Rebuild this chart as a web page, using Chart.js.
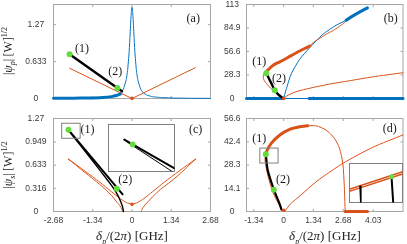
<!DOCTYPE html>
<html>
<head>
<meta charset="utf-8">
<title>Pump and signal amplitudes</title>
<script src="https://cdn.jsdelivr.net/npm/chart.js@4.4.1/dist/chart.umd.min.js"></script>
<style>
  html, body { margin: 0; padding: 0; background: #fff; }
  #fig { position: relative; width: 407px; height: 244px; overflow: hidden; font-family: "Liberation Serif", "Times New Roman", serif; color: #222; }
  #fig canvas { position: absolute; left: 0; top: 0; }
  .ytitle { position: absolute; width: 110px; height: 14px; line-height: 14px; text-align: center; font-size: 12px; transform: rotate(-90deg); white-space: nowrap; }
  .xtitle { position: absolute; width: 160px; text-align: center; font-size: 13px; white-space: nowrap; }
  sub, sup { font-size: 8px; line-height: 0; }
</style>
</head>
<body>
<div id="fig">
  <canvas id="panelA" width="407" height="244"></canvas>
  <canvas id="panelB" width="407" height="244"></canvas>
  <canvas id="panelC" width="407" height="244"></canvas>
  <canvas id="panelD" width="407" height="244"></canvas>
  <canvas id="insetC" width="407" height="244"></canvas>
  <canvas id="insetD" width="407" height="244"></canvas>
  <div class="ytitle" style="left:-47px; top:44px;">|<i>ψ</i><sub><i>p</i></sub>|&thinsp;[W]<sup>1/2</sup></div>
  <div class="ytitle" style="left:-47px; top:158px;">|<i>ψ</i><sub><i>s</i></sub>|&thinsp;[W]<sup>1/2</sup></div>
  <div class="xtitle" style="left:52px; top:228px;"><i>δ</i><sub><i>p</i></sub>/(2<i>π</i>) [GHz]</div>
  <div class="xtitle" style="left:245px; top:228px;"><i>δ</i><sub><i>p</i></sub>/(2<i>π</i>) [GHz]</div>
</div>
<script>
// ---- axes ----
const narrowTicksX = [-2.68, -1.34, 0, 1.34, 2.68];
const narrowTickLabelsX = ['-2.68', '-1.34', '0', '1.34', '2.68'];
const wideTicksX = [-1.34, 0, 1.34, 2.68, 4.03];
const wideTickLabelsX = ['-1.34', '0', '1.34', '2.68', '4.03'];
const aTicksY = [0, 0.633, 1.27];
const aTickLabelsY = ['0', '0.633', '1.27'];
const bTicksY = [0, 28.3, 56.6, 84.9, 113];
const bTickLabelsY = ['0', '28.3', '56.6', '84.9', '113'];
const cTicksY = [0, 0.316, 0.633, 0.949, 1.27];
const cTickLabelsY = ['0', '0.316', '0.633', '0.949', '1.27'];
const dTicksY = [0, 14.1, 28.3, 42.4, 56.6];
const dTickLabelsY = ['0', '14.1', '28.3', '42.4', '56.6'];

// ---- panel (a): pump ----
const aBlueX = [-2.68, -2.0, -1.5, -1.0, -0.7, -0.5, -0.4, -0.3, -0.2, -0.15, -0.1, -0.07, -0.04, -0.02, 0, 0.02, 0.04, 0.07, 0.1, 0.15, 0.2, 0.3, 0.4, 0.5, 0.7, 1.0, 1.5, 2.0, 2.68];
const aBlueY = [0.002, 0.004, 0.007, 0.016, 0.031, 0.06, 0.092, 0.157, 0.314, 0.483, 0.785, 1.054, 1.353, 1.51, 1.57, 1.51, 1.353, 1.054, 0.785, 0.483, 0.314, 0.157, 0.092, 0.06, 0.031, 0.016, 0.007, 0.004, 0.002];
const aBlueStableX = [-2.68, -2.0, -1.5, -1.0, -0.7, -0.5, -0.4];
const aBlueStableY = [0.004, 0.006, 0.009, 0.018, 0.032, 0.055, 0.075];
const aOrangeX = [-2.13, 0, 2.16];
const aOrangeY = [0.52, 0, 0.53];
const aBlackX = [-2.13, -0.5, -0.34];
const aBlackY = [0.76, 0.18, 0.125];
const aGreenX = [-2.13, -0.5];
const aGreenY = [0.76, 0.18];

// ---- panel (b): pump ----
const bFloorX = [-1.67, 5.37];
const bFloorY = [0, 0];
const bFloorLeftX = [-1.67, -0.03];
const bFloorRightX = [1.15, 5.37];
const bBlueX = [0, 0.06, 0.15, 0.35, 0.72, 1.17, 1.76, 2.36, 2.81];
const bBlueY = [0, 6, 14, 30, 47, 61, 77, 88, 94];
const bBlueStableX = [2.81, 3.1, 3.45, 3.77];
const bBlueStableY = [94, 99, 104.5, 109];
const bFoldX = [0, -0.2, -0.4, -0.6, -0.77, -0.88, -0.92, -0.88, -0.77];
const bFoldY = [0, 4, 8.3, 12.8, 18, 22, 26, 30, 32.5];
const bUpperThickX = [-0.77, -0.6, -0.47, -0.25, -0.03, 0.3, 0.57, 0.9, 1.17];
const bUpperThickY = [32.5, 37, 40, 43.2, 46, 51, 55, 59.5, 63];
const bUpperThinX = [1.17, 1.39, 1.61, 1.9, 2.21, 2.5, 2.81];
const bUpperThinY = [63, 68.5, 72, 77, 81.5, 86.5, 93];
const bLowX = [0, 0.2, 0.6, 1.2, 2.0, 3.0, 4.0, 5.37];
const bLowY = [0, 4, 8.5, 12.5, 17, 21.5, 26, 31];
const bBlackX = [-0.77, -0.66, -0.55, -0.4, -0.25, -0.1, 0];
const bBlackY = [30, 24, 18.2, 10, 5, 1.8, 0];
const bGreenX = [-0.78, -0.4];
const bGreenY = [30.5, 10];

// ---- panel (c): signal ----
const cBlackAX = [-2.17, -0.32];
const cBlackAY = [1.115, 0.235];
const cBlackBX = [-2.15, -1.4, -0.8, -0.6, -0.47, -0.38, -0.32, -0.29];
const cBlackBY = [1.1, 0.72, 0.41, 0.3, 0.21, 0.13, 0.06, 0];
const cOrangeX = [-2.17, -1.6, -1.1, -0.7, -0.4, -0.2, 0, 0.2, 0.4, 0.7, 1.1, 1.6, 2.17];
const cOrangeY = [0.716, 0.55, 0.4, 0.27, 0.175, 0.125, 0.1, 0.125, 0.175, 0.27, 0.4, 0.55, 0.716];
const cOrangeLeftX = [-2.17, -1.6, -1.1, -0.7, -0.5, -0.4, -0.34, -0.32];
const cOrangeLeftY = [0.716, 0.53, 0.37, 0.22, 0.12, 0.072, 0.03, 0];
const cOrangeRightX = [0.32, 0.34, 0.4, 0.51, 0.7, 0.97, 1.54, 2.17];
const cOrangeRightY = [0, 0.03, 0.07, 0.118, 0.2, 0.3, 0.48, 0.716];
const cGreenX = [-2.17, -0.52];
const cGreenY = [1.115, 0.31];
const cInsetThickX = [-2.249, -1.77];
const cInsetThickY = [1.139, 1.014];
const cInsetThinX = [-2.224, -1.792];
const cInsetThinY = [1.129, 1.0];
const cInsetGreenX = [-2.17];
const cInsetGreenY = [1.118];

// ---- panel (d): signal ----
const dArcThickX = [-0.8, -0.77, -0.55, -0.17, 0.27, 0.72, 1.09];
const dArcThickY = [34.9, 36.5, 41.6, 46.6, 50.0, 51.6, 52.2];
const dArcThinX = [1.09, 1.47, 1.91, 2.28, 2.51, 2.66, 2.73, 2.76, 2.77];
const dArcThinY = [52.2, 52.1, 49.6, 44.6, 38.6, 29.5, 15.3, 3.2, 0];
const dFloorX = [2.77, 3.77];
const dFloorY = [0, 0];
const dDownX = [-0.8, -0.84, -0.7, -0.47, -0.17, -0.05];
const dDownY = [34.9, 31.5, 21.4, 11.3, 3.2, 0.6];
const dRiseX = [0.05, 0.3, 0.75, 1.5, 2.69, 4.0, 5.37];
const dRiseY = [0, 4.5, 9.7, 18.5, 29.5, 39, 46.6];
const dBlackX = [-0.8, -0.72, -0.44, -0.17, -0.1];
const dBlackY = [34.9, 25.4, 13.3, 4.2, 1.2];
const dGreenX = [-0.8, -0.44];
const dGreenY = [34.9, 13.3];
const dInsetUpperX = [-1.07, -0.25];
const dInsetUpperY = [32.6, 36.66];
const dInsetLowerX = [-1.07, -0.25];
const dInsetLowerY = [32.1, 36.16];
const dInsetBlack1X = [-0.906, -0.895];
const dInsetBlack1Y = [33.3, 29.5];
const dInsetBlack2X = [-0.419, -0.394];
const dInsetBlack2Y = [35.3, 29.5];
const dInsetGreenX = [-0.419];
const dInsetGreenY = [35.5];

const BLUE = '#0072bd';
const ORANGE = '#d95319';
const BLACK = '#000000';
const GREEN = '#62dc3c';
const FRAME = '#a6a6a6';
const tickFont = { family: '"Liberation Sans", Arial, sans-serif', size: 8.5 };
const noteFont = '12px "Liberation Serif", "Times New Roman", serif';

function pairs(xs, ys) {
    return xs.map((x, i) => ({ x, y: ys[i] }));
}

function curve(xs, ys, color, width, extra) {
    return Object.assign({
        data: pairs(xs, ys),
        showLine: true,
        borderColor: color,
        backgroundColor: color,
        borderWidth: width,
        pointRadius: 0,
        tension: 0.25,
        clip: false,
        order: 5,
        borderCapStyle: 'round',
        borderJoinStyle: 'round'
    }, extra || {});
}

function dots(xs, ys, color, radius) {
    return {
        data: pairs(xs, ys),
        showLine: false,
        pointRadius: radius,
        pointBackgroundColor: color,
        pointBorderWidth: 0,
        backgroundColor: color,
        borderColor: color,
        clip: false,
        order: 0
    };
}

// frame box with inward ticks on all four sides
const panelFrame = {
    id: 'panelFrame',
    beforeDatasetsDraw(chart, args, opts) {
        const { ctx, chartArea: area, scales } = chart;
        ctx.save();
        if (opts.fill) {
            ctx.fillStyle = opts.fill;
            ctx.fillRect(area.left, area.top, area.width, area.height);
        }
        ctx.strokeStyle = opts.color;
        ctx.lineWidth = 1;
        ctx.strokeRect(area.left, area.top, area.width, area.height);
        const len = opts.tickLength || 0;
        if (len) {
            ctx.beginPath();
            scales.x.ticks.forEach((t) => {
                const px = scales.x.getPixelForValue(t.value);
                ctx.moveTo(px, area.bottom); ctx.lineTo(px, area.bottom - len);
                ctx.moveTo(px, area.top); ctx.lineTo(px, area.top + len);
            });
            scales.y.ticks.forEach((t) => {
                const py = scales.y.getPixelForValue(t.value);
                ctx.moveTo(area.left, py); ctx.lineTo(area.left + len, py);
                ctx.moveTo(area.right, py); ctx.lineTo(area.right - len, py);
            });
            ctx.stroke();
        }
        ctx.restore();
    }
};

// panel letters, point numbers and zoom boxes, placed in data units
const panelNotes = {
    id: 'panelNotes',
    afterDatasetsDraw(chart, args, opts) {
        const { ctx, scales: { x, y } } = chart;
        ctx.save();
        ctx.strokeStyle = '#7f7f7f';
        ctx.lineWidth = 1;
        (opts.boxes || []).forEach((b) => {
            const x0 = x.getPixelForValue(b.x0);
            const x1 = x.getPixelForValue(b.x1);
            const y0 = y.getPixelForValue(b.y0);
            const y1 = y.getPixelForValue(b.y1);
            ctx.strokeRect(x0, y1, x1 - x0, y0 - y1);
        });
        ctx.font = noteFont;
        ctx.fillStyle = '#1a1a1a';
        ctx.textAlign = 'center';
        ctx.textBaseline = 'middle';
        (opts.labels || []).forEach((l) => {
            ctx.fillText(l.text, x.getPixelForValue(l.x), y.getPixelForValue(l.y));
        });
        ctx.restore();
    }
};

function axis(min, max, ticks, labels, size, pad) {
    return {
        type: 'linear',
        min,
        max,
        grid: { display: false, drawTicks: false },
        border: { display: false },
        ticks: {
            display: !!labels,
            autoSkip: false,
            maxRotation: 0,
            font: tickFont,
            color: '#3a3a3a',
            padding: pad,
            crossAlign: 'center',
            callback: (value, index) => (labels ? labels[index] : '')
        },
        afterBuildTicks: (scale) => {
            scale.ticks = ticks.map((v) => ({ value: v }));
        },
        afterFit: (scale) => {
            scale.paddingLeft = 0; scale.paddingRight = 0;
            scale.paddingTop = 0; scale.paddingBottom = 0;
            if (scale.isHorizontal()) scale.height = size; else scale.width = size;
        }
    };
}

function makePanel(id, box, xAxis, yAxis, datasets, notes, frame) {
    const yW = yAxis.display === false ? 0 : 40;
    const xH = xAxis.display === false ? 0 : xAxis._h;
    return new Chart(document.getElementById(id), {
        type: 'scatter',
        data: { datasets },
        options: {
            responsive: false,
            animation: false,
            events: [],
            layout: { padding: { left: box.left - yW, top: box.top, right: 407 - box.right, bottom: 244 - box.bottom - xH } },
            scales: { x: xAxis, y: yAxis },
            plugins: {
                legend: { display: false },
                tooltip: { enabled: false },
                panelFrame: frame,
                panelNotes: notes
            }
        },
        plugins: [panelFrame, panelNotes]
    });
}

function xAxisFor(min, max, ticks, labels) {
    const a = axis(min, max, ticks, labels, labels ? 22 : 0, 4);
    a.ticks.crossAlign = 'near';
    a._h = labels ? 22 : 0;
    return a;
}

function hiddenAxis(min, max) {
    return { type: 'linear', min, max, display: false };
}

const mainFrame = { color: FRAME, tickLength: 2.5 };

// (a)
makePanel('panelA', { left: 53.5, top: 4.5, right: 210.5, bottom: 98.5 },
    xAxisFor(-2.68, 2.68, narrowTicksX, null),
    axis(0, 1.617, aTicksY, aTickLabelsY, 40, 7),
    [
        dots(aGreenX, aGreenY, GREEN, 3),
        dots([0], [0], ORANGE, 1.8),
        curve(aBlackX, aBlackY, BLACK, 2.4, { tension: 0, order: 2 }),
        curve(aBlueStableX, aBlueStableY, BLUE, 3, { order: 3 }),
        curve(aOrangeX, aOrangeY, ORANGE, 1, { tension: 0, order: 4 }),
        curve(aBlueX, aBlueY, BLUE, 1, { tension: 0.1, order: 6 })
    ],
    { labels: [{ x: -1.71, y: 0.86, text: '(1)' }, { x: -0.57, y: 0.46, text: '(2)' }, { x: 2.09, y: 1.37, text: '(a)' }] },
    mainFrame);

// (b)
makePanel('panelB', { left: 246.5, top: 4.5, right: 403.5, bottom: 98.5 },
    xAxisFor(-1.67, 5.37, wideTicksX, null),
    axis(0, 113, bTicksY, bTickLabelsY, 40, 6),
    [
        dots(bGreenX, bGreenY, GREEN, 3),
        dots([0], [0], ORANGE, 1.8),
        curve(bBlackX, bBlackY, BLACK, 2.4, { order: 2 }),
        curve(bFloorLeftX, bFloorY, BLUE, 3, { tension: 0, order: 3 }),
        curve(bFloorRightX, bFloorY, BLUE, 3, { tension: 0, order: 3 }),
        curve(bBlueStableX, bBlueStableY, BLUE, 3, { order: 3 }),
        curve(bUpperThickX, bUpperThickY, ORANGE, 3, { order: 3 }),
        curve(bFoldX, bFoldY, ORANGE, 1, { order: 4 }),
        curve(bUpperThinX, bUpperThinY, ORANGE, 1, { order: 4 }),
        curve(bLowX, bLowY, ORANGE, 1, { order: 4 }),
        curve(bBlueX, bBlueY, BLUE, 1, { order: 5 }),
        curve(bFloorX, bFloorY, BLUE, 1, { tension: 0, order: 6 })
    ],
    { labels: [{ x: -1.1, y: 44, text: '(1)' }, { x: -0.21, y: 24.2, text: '(2)' }, { x: 4.82, y: 95.9, text: '(b)' }] },
    mainFrame);

// (c)
makePanel('panelC', { left: 53.5, top: 118.5, right: 210.5, bottom: 211.5 },
    xAxisFor(-2.68, 2.68, narrowTicksX, narrowTickLabelsX),
    axis(0, 1.27, cTicksY, cTickLabelsY, 40, 7),
    [
        dots(cGreenX, cGreenY, GREEN, 3),
        dots([0], [0.1], ORANGE, 1.8),
        curve(cBlackAX, cBlackAY, BLACK, 2, { tension: 0, order: 2 }),
        curve(cBlackBX, cBlackBY, BLACK, 1.4, { order: 2 }),
        curve(cOrangeX, cOrangeY, ORANGE, 1, { order: 4 }),
        curve(cOrangeLeftX, cOrangeLeftY, ORANGE, 1, { order: 4 }),
        curve(cOrangeRightX, cOrangeRightY, ORANGE, 1, { order: 4 })
    ],
    {
        labels: [{ x: -1.52, y: 1.114, text: '(1)' }, { x: -0.23, y: 0.435, text: '(2)' }, { x: 2.17, y: 1.114, text: '(c)' }],
        boxes: [{ x0: -2.4, x1: -1.77, y0: 1.0, y1: 1.205 }]
    },
    mainFrame);

// (d)
makePanel('panelD', { left: 246.5, top: 118.5, right: 403.5, bottom: 211.5 },
    xAxisFor(-1.67, 5.37, wideTicksX, wideTickLabelsX),
    axis(0, 56.6, dTicksY, dTickLabelsY, 40, 6),
    [
        dots(dGreenX, dGreenY, GREEN, 3),
        dots([0], [0.8], ORANGE, 1.8),
        curve(dBlackX, dBlackY, BLACK, 2.2, { order: 2 }),
        curve(dArcThickX, dArcThickY, ORANGE, 3, { order: 3 }),
        curve(dFloorX, dFloorY, ORANGE, 3, { tension: 0, order: 3 }),
        curve(dArcThinX, dArcThinY, ORANGE, 1, { order: 4 }),
        curve(dDownX, dDownY, ORANGE, 1, { order: 4 }),
        curve(dRiseX, dRiseY, ORANGE, 1, { order: 4 })
    ],
    {
        labels: [{ x: -1.1, y: 44, text: '(1)' }, { x: -0.03, y: 19.4, text: '(2)' }, { x: 4.77, y: 50.1, text: '(d)' }],
        boxes: [{ x0: -1.07, x1: -0.25, y0: 29.5, y1: 38.6 }]
    },
    mainFrame);

// insets: zoom of the grey boxes
const insetFrame = { color: '#7f7f7f', fill: '#ffffff', tickLength: 0 };

makePanel('insetC', { left: 108.5, top: 124.5, right: 174.5, bottom: 171.5 },
    hiddenAxis(-2.4, -1.77),
    hiddenAxis(1.0, 1.205),
    [
        dots(cInsetGreenX, cInsetGreenY, GREEN, 3),
        curve(cInsetThickX, cInsetThickY, BLACK, 2, { tension: 0, order: 2, clip: 0 }),
        curve(cInsetThinX, cInsetThinY, BLACK, 1, { tension: 0, order: 2, clip: 0 })
    ],
    {},
    insetFrame);

makePanel('insetD', { left: 349.5, top: 163.5, right: 402.5, bottom: 202.5 },
    hiddenAxis(-1.07, -0.25),
    hiddenAxis(29.5, 38.6),
    [
        dots(dInsetGreenX, dInsetGreenY, GREEN, 2.5),
        curve(dInsetBlack1X, dInsetBlack1Y, BLACK, 1.6, { tension: 0, order: 2, clip: 0 }),
        curve(dInsetBlack2X, dInsetBlack2Y, BLACK, 2, { tension: 0, order: 2, clip: 0 }),
        curve(dInsetUpperX, dInsetUpperY, ORANGE, 1.5, { tension: 0, order: 3, clip: 0 }),
        curve(dInsetLowerX, dInsetLowerY, ORANGE, 1.5, { tension: 0, order: 3, clip: 0 })
    ],
    {},
    insetFrame);
</script>
</body>
</html>
